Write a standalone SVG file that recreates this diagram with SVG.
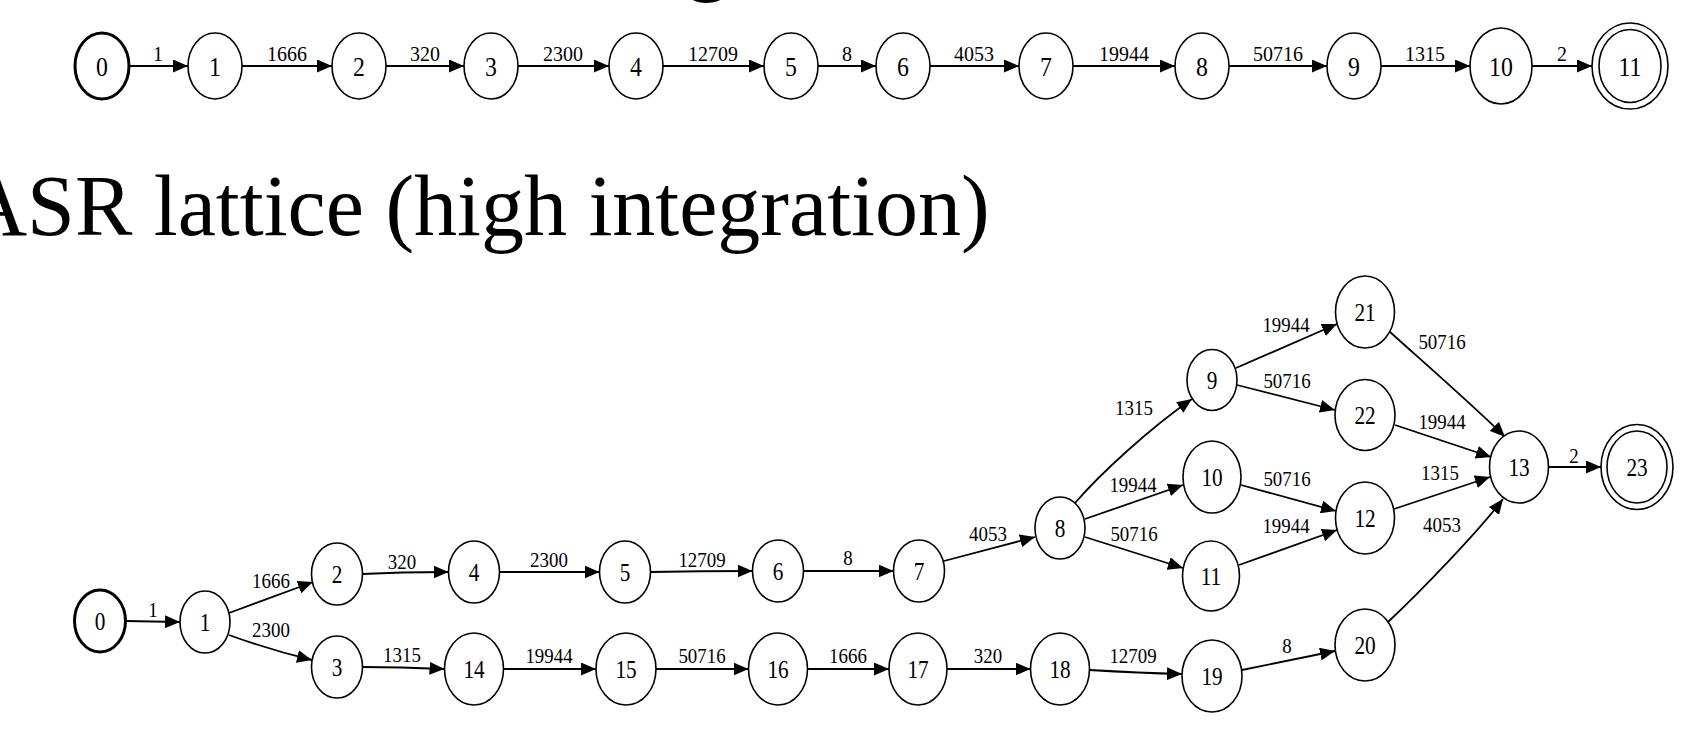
<svg xmlns="http://www.w3.org/2000/svg" width="1703" height="729" viewBox="0 0 1703 729">
  <style>
    .node ellipse { fill: #fff; stroke: #000; stroke-width: 1.6; }
    .node.start ellipse { stroke-width: 3; }
    .node text, .lbl, .title {
      font-family: "Liberation Serif", "Times New Roman", serif;
      fill: #000; text-anchor: middle;
    }
    .top .node text { font-size: 28px; }
    .lat .node text { font-size: 25px; }
    .lbl { font-size: 21px; }
    .title { font-size: 86px; text-anchor: start; }
    .edges path { fill: none; stroke: #000; stroke-width: 1.8; marker-end: url(#ah); }
  </style>
  <defs>
    <marker id="ah" markerUnits="userSpaceOnUse" markerWidth="15" markerHeight="13"
            refX="15" refY="6.5" orient="auto">
      <path d="M0,0 L15,6.5 L0,13 Z" fill="#000"/>
    </marker>
  </defs>
  <rect width="1703" height="729" fill="#fff"/>

  <!-- heading descender cut at the top edge -->
  <text class="title" x="686" y="-16.5">g</text>
  <!-- heading of the lattice -->
  <text class="title" x="-35" y="235">ASR lattice (high integration)</text>

  <!-- ===== linear chain ===== -->
  <g class="top">
    <g class="edges" id="top-edges">
      <path d="M129,66 L188,66"/>
      <path d="M242,66 L332,66"/>
      <path d="M386,66 L464,66"/>
      <path d="M518,66 L609,66"/>
      <path d="M663,66 L764,66"/>
      <path d="M818,66 L876,66"/>
      <path d="M930,66 L1019,66"/>
      <path d="M1073,66 L1175,66"/>
      <path d="M1229,66 L1327,66"/>
      <path d="M1381,66 L1470,66"/>
      <path d="M1532,66 L1592,66"/>
    </g>
    <g id="top-edge-labels">
      <text class="lbl" transform="translate(158,61) scale(0.95,1)">1</text>
      <text class="lbl" transform="translate(287,61) scale(0.95,1)">1666</text>
      <text class="lbl" transform="translate(425,61) scale(0.95,1)">320</text>
      <text class="lbl" transform="translate(563,61) scale(0.95,1)">2300</text>
      <text class="lbl" transform="translate(713,61) scale(0.95,1)">12709</text>
      <text class="lbl" transform="translate(847,61) scale(0.95,1)">8</text>
      <text class="lbl" transform="translate(974,61) scale(0.95,1)">4053</text>
      <text class="lbl" transform="translate(1124,61) scale(0.95,1)">19944</text>
      <text class="lbl" transform="translate(1278,61) scale(0.95,1)">50716</text>
      <text class="lbl" transform="translate(1425,61) scale(0.95,1)">1315</text>
      <text class="lbl" transform="translate(1562,61) scale(0.95,1)">2</text>
    </g>
    <g class="node start" id="t0"><ellipse cx="102" cy="66" rx="27" ry="33"/><text transform="translate(102,75.5) scale(0.85,1)">0</text></g>
    <g class="node" id="t1"><ellipse cx="215" cy="66" rx="27" ry="33"/><text transform="translate(215,75.5) scale(0.85,1)">1</text></g>
    <g class="node" id="t2"><ellipse cx="359" cy="66" rx="27" ry="33"/><text transform="translate(359,75.5) scale(0.85,1)">2</text></g>
    <g class="node" id="t3"><ellipse cx="491" cy="66" rx="27" ry="33"/><text transform="translate(491,75.5) scale(0.85,1)">3</text></g>
    <g class="node" id="t4"><ellipse cx="636" cy="66" rx="27" ry="33"/><text transform="translate(636,75.5) scale(0.85,1)">4</text></g>
    <g class="node" id="t5"><ellipse cx="791" cy="66" rx="27" ry="33"/><text transform="translate(791,75.5) scale(0.85,1)">5</text></g>
    <g class="node" id="t6"><ellipse cx="903" cy="66" rx="27" ry="33"/><text transform="translate(903,75.5) scale(0.85,1)">6</text></g>
    <g class="node" id="t7"><ellipse cx="1046" cy="66" rx="27" ry="33"/><text transform="translate(1046,75.5) scale(0.85,1)">7</text></g>
    <g class="node" id="t8"><ellipse cx="1202" cy="66" rx="27" ry="33"/><text transform="translate(1202,75.5) scale(0.85,1)">8</text></g>
    <g class="node" id="t9"><ellipse cx="1354" cy="66" rx="27" ry="33"/><text transform="translate(1354,75.5) scale(0.85,1)">9</text></g>
    <g class="node" id="t10"><ellipse cx="1501" cy="66" rx="31" ry="38"/><text transform="translate(1501,75.5) scale(0.85,1)">10</text></g>
    <g class="node" id="t11"><ellipse cx="1630" cy="66" rx="38" ry="43"/><ellipse cx="1630" cy="66" rx="31" ry="36.5"/><text transform="translate(1630,75.5) scale(0.85,1)">11</text></g>
  </g>

  <!-- ===== lattice ===== -->
  <g class="lat">
    <g class="edges" id="lat-edges">
      <path d="M125.5,621 L180,622"/>
      <path d="M229,613 L313,582"/>
      <path d="M229,635 Q270,650 312,660"/>
      <path d="M362.5,574 Q400,572 448.5,572"/>
      <path d="M362.5,667 Q400,667 444.5,669"/>
      <path d="M499.5,572 L599.5,572"/>
      <path d="M503.5,669 L596,669"/>
      <path d="M650.5,572 Q700,571 752.5,571"/>
      <path d="M656,669 L748.5,669"/>
      <path d="M803.5,571 L893.5,571"/>
      <path d="M807.5,669 L889,669"/>
      <path d="M944,561 L1035,537"/>
      <path d="M947,669 L1030.5,669"/>
      <path d="M1075,503 C1100,474 1150,428 1192,399"/>
      <path d="M1085,519 L1183,485"/>
      <path d="M1085,537 L1183,568"/>
      <path d="M1089.5,670 Q1140,673 1182,674"/>
      <path d="M1236,368 L1337,324"/>
      <path d="M1237,385 L1335,410"/>
      <path d="M1241,485 L1336,511"/>
      <path d="M1239,565 L1337,530"/>
      <path d="M1242,670 L1335,651"/>
      <path d="M1390,332 C1430,368 1478,410 1505,437"/>
      <path d="M1395,425 L1491,457"/>
      <path d="M1394,509 L1490,477"/>
      <path d="M1388,622 C1420,592 1478,532 1503,499"/>
      <path d="M1548.5,467 L1601,467"/>
    </g>
    <g id="lat-edge-labels">
      <text class="lbl" transform="translate(153,617) scale(0.9,1)">1</text>
      <text class="lbl" transform="translate(271,588) scale(0.9,1)">1666</text>
      <text class="lbl" transform="translate(271,637) scale(0.9,1)">2300</text>
      <text class="lbl" transform="translate(402,569) scale(0.9,1)">320</text>
      <text class="lbl" transform="translate(402,662) scale(0.9,1)">1315</text>
      <text class="lbl" transform="translate(549,567) scale(0.9,1)">2300</text>
      <text class="lbl" transform="translate(549,663) scale(0.9,1)">19944</text>
      <text class="lbl" transform="translate(702,567) scale(0.9,1)">12709</text>
      <text class="lbl" transform="translate(702,663) scale(0.9,1)">50716</text>
      <text class="lbl" transform="translate(848,565) scale(0.9,1)">8</text>
      <text class="lbl" transform="translate(848,663) scale(0.9,1)">1666</text>
      <text class="lbl" transform="translate(988,541) scale(0.9,1)">4053</text>
      <text class="lbl" transform="translate(988,663) scale(0.9,1)">320</text>
      <text class="lbl" transform="translate(1134,415) scale(0.9,1)">1315</text>
      <text class="lbl" transform="translate(1133,492) scale(0.9,1)">19944</text>
      <text class="lbl" transform="translate(1134,541) scale(0.9,1)">50716</text>
      <text class="lbl" transform="translate(1133,663) scale(0.9,1)">12709</text>
      <text class="lbl" transform="translate(1286,332) scale(0.9,1)">19944</text>
      <text class="lbl" transform="translate(1287,388) scale(0.9,1)">50716</text>
      <text class="lbl" transform="translate(1287,486) scale(0.9,1)">50716</text>
      <text class="lbl" transform="translate(1286,533) scale(0.9,1)">19944</text>
      <text class="lbl" transform="translate(1287,653) scale(0.9,1)">8</text>
      <text class="lbl" transform="translate(1442,349) scale(0.9,1)">50716</text>
      <text class="lbl" transform="translate(1442,429) scale(0.9,1)">19944</text>
      <text class="lbl" transform="translate(1440,480) scale(0.9,1)">1315</text>
      <text class="lbl" transform="translate(1442,532) scale(0.9,1)">4053</text>
      <text class="lbl" transform="translate(1574,463) scale(0.9,1)">2</text>
    </g>
    <g class="node start" id="n0"><ellipse cx="100" cy="621" rx="25.5" ry="31"/><text transform="translate(100,629.5) scale(0.85,1)">0</text></g>
    <g class="node" id="n1"><ellipse cx="205" cy="622" rx="25" ry="31"/><text transform="translate(205,630.5) scale(0.85,1)">1</text></g>
    <g class="node" id="n2"><ellipse cx="337" cy="574" rx="25.5" ry="31"/><text transform="translate(337,582.5) scale(0.85,1)">2</text></g>
    <g class="node" id="n3"><ellipse cx="337" cy="667" rx="25.5" ry="31"/><text transform="translate(337,675.5) scale(0.85,1)">3</text></g>
    <g class="node" id="n4"><ellipse cx="474" cy="572" rx="25.5" ry="31"/><text transform="translate(474,580.5) scale(0.85,1)">4</text></g>
    <g class="node" id="n14"><ellipse cx="474" cy="669" rx="29.5" ry="36"/><text transform="translate(474,677.5) scale(0.85,1)">14</text></g>
    <g class="node" id="n5"><ellipse cx="625" cy="572" rx="25.5" ry="31"/><text transform="translate(625,580.5) scale(0.85,1)">5</text></g>
    <g class="node" id="n15"><ellipse cx="626" cy="669" rx="30" ry="36"/><text transform="translate(626,677.5) scale(0.85,1)">15</text></g>
    <g class="node" id="n6"><ellipse cx="778" cy="571" rx="25.5" ry="31"/><text transform="translate(778,579.5) scale(0.85,1)">6</text></g>
    <g class="node" id="n16"><ellipse cx="778" cy="669" rx="29.5" ry="36"/><text transform="translate(778,677.5) scale(0.85,1)">16</text></g>
    <g class="node" id="n7"><ellipse cx="919" cy="571" rx="25.5" ry="31"/><text transform="translate(919,579.5) scale(0.85,1)">7</text></g>
    <g class="node" id="n17"><ellipse cx="918" cy="669" rx="29" ry="36"/><text transform="translate(918,677.5) scale(0.85,1)">17</text></g>
    <g class="node" id="n8"><ellipse cx="1060" cy="528" rx="25" ry="31"/><text transform="translate(1060,536.5) scale(0.85,1)">8</text></g>
    <g class="node" id="n18"><ellipse cx="1060" cy="669" rx="29.5" ry="36"/><text transform="translate(1060,677.5) scale(0.85,1)">18</text></g>
    <g class="node" id="n9"><ellipse cx="1212" cy="380" rx="25" ry="30.5"/><text transform="translate(1212,388.5) scale(0.85,1)">9</text></g>
    <g class="node" id="n10"><ellipse cx="1212" cy="477" rx="29" ry="36"/><text transform="translate(1212,485.5) scale(0.85,1)">10</text></g>
    <g class="node" id="n11"><ellipse cx="1211" cy="576" rx="28.5" ry="35"/><text transform="translate(1211,584.5) scale(0.85,1)">11</text></g>
    <g class="node" id="n19"><ellipse cx="1212" cy="676" rx="30" ry="36"/><text transform="translate(1212,684.5) scale(0.85,1)">19</text></g>
    <g class="node" id="n21"><ellipse cx="1365" cy="312" rx="29.5" ry="36"/><text transform="translate(1365,320.5) scale(0.85,1)">21</text></g>
    <g class="node" id="n22"><ellipse cx="1365" cy="415" rx="30" ry="35.5"/><text transform="translate(1365,423.5) scale(0.85,1)">22</text></g>
    <g class="node" id="n12"><ellipse cx="1365" cy="518" rx="29.5" ry="36"/><text transform="translate(1365,526.5) scale(0.85,1)">12</text></g>
    <g class="node" id="n20"><ellipse cx="1365" cy="645" rx="30" ry="36"/><text transform="translate(1365,653.5) scale(0.85,1)">20</text></g>
    <g class="node" id="n13"><ellipse cx="1519" cy="467" rx="29.5" ry="36"/><text transform="translate(1519,475.5) scale(0.85,1)">13</text></g>
    <g class="node" id="n23"><ellipse cx="1637" cy="467" rx="36" ry="42.5"/><ellipse cx="1637" cy="467" rx="30" ry="36"/><text transform="translate(1637,475.5) scale(0.85,1)">23</text></g>
  </g>
</svg>
